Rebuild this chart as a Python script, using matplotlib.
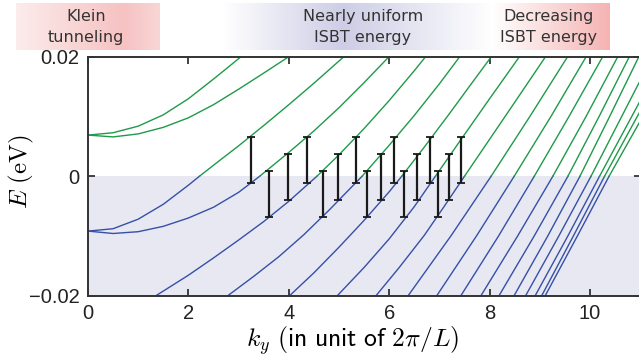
import numpy as np
import matplotlib
matplotlib.use("Agg")
import matplotlib.pyplot as plt
from matplotlib.colors import LinearSegmentedColormap

plt.rcParams["mathtext.fontset"] = "cm"

W, H = 639, 361

# low-k bands, read point by point (k in 2pi/L, E in eV)
band_a_k = [0.0, 0.5, 1.0, 1.5, 2.0, 2.5, 2.75, 3.04]
band_a_e = [0.0069, 0.0073, 0.0084, 0.0103, 0.0130, 0.0163, 0.0180, 0.0200]
band_b_k = [0.0, 0.5, 1.0, 1.5, 2.0, 2.5, 3.0, 3.5, 3.99]
band_b_e = [0.0069, 0.0066, 0.0071, 0.0082, 0.0098, 0.0120, 0.0146, 0.0173, 0.0200]
band_c_k = [0.0, 0.5, 1.0, 1.5, 2.0, 2.22, 2.6, 3.0, 3.5, 4.0, 4.5, 5.09]
band_c_e = [-0.0092, -0.0088, -0.0072, -0.0047, -0.0015, 0.0, 0.0025, 0.0051,
            0.0085, 0.0120, 0.0156, 0.0200]
band_d_k = [0.0, 0.5, 1.0, 1.5, 2.0, 2.5, 3.0, 3.42, 4.0, 4.5, 5.0, 5.5, 5.99]
band_d_e = [-0.0092, -0.0096, -0.0093, -0.0084, -0.0070, -0.0052, -0.0027, 0.0,
            0.0040, 0.0076, 0.0115, 0.0157, 0.0200]
band_e_k = [1.36, 2.0, 2.5, 3.0, 3.5, 4.0, 4.56, 5.0, 5.5, 6.0, 6.5, 6.72]
band_e_e = [-0.0200, -0.0166, -0.0137, -0.0107, -0.0076, -0.0042, 0.0, 0.0036,
            0.0080, 0.0127, 0.0177, 0.0200]
band_f_k = [2.79, 3.3, 3.8, 4.3, 4.8, 5.46, 6.0, 6.5, 7.0, 7.40]
band_f_e = [-0.0200, -0.0168, -0.0135, -0.0098, -0.0057, 0.0, 0.0052, 0.0102,
            0.0155, 0.0200]
band_g_k = [4.02, 4.5, 5.0, 5.5, 6.0, 6.25, 6.7, 7.2, 7.6, 8.03]
band_g_e = [-0.0200, -0.0162, -0.0119, -0.0074, -0.0026, 0.0, 0.0049, 0.0105,
            0.0151, 0.0200]
band_h_k = [4.97, 5.5, 6.0, 6.5, 6.92, 7.4, 8.0, 8.59]
band_h_e = [-0.0200, -0.0153, -0.0105, -0.0051, 0.0, 0.0058, 0.0130, 0.0200]
band_i_k = [5.74, 6.2, 6.7, 7.1, 7.5, 8.0, 8.5, 9.11]
band_i_e = [-0.0200, -0.0153, -0.0099, -0.0050, 0.0, 0.0062, 0.0124, 0.0200]

# steeper bands: k where each one crosses these energies
levels = [-0.02, -0.01, 0.0, 0.01, 0.02]
cross_m20 = [6.38, 6.95, 7.43, 7.83, 8.19, 8.49, 8.72, 8.91, 9.04, 9.11]
cross_m10 = [7.23, 7.74, 8.18, 8.56, 8.89, 9.16, 9.38, 9.56, 9.67, 9.75]
cross_0 = [8.03, 8.49, 8.89, 9.26, 9.56, 9.80, 10.02, 10.19, 10.29, 10.38]
cross_p10 = [8.80, 9.22, 9.58, 9.92, 10.18, 10.39, 10.63, 10.83, 10.94, 11.05]
cross_p20 = [9.55, 9.92, 10.25, 10.55, 10.78, 10.97, 11.24, 11.47, 11.60, 11.70]

# transition bars
bar_k = [3.24, 3.61, 3.98, 4.37, 4.69, 4.99, 5.33, 5.56, 5.83, 6.10, 6.30, 6.55, 6.81, 6.98, 7.20, 7.44]
bar_lo = [-0.0011, -0.0068, -0.0040, -0.0011, -0.0068, -0.0040, -0.0011, -0.0068,
          -0.0040, -0.0011, -0.0068, -0.0040, -0.0011, -0.0068, -0.0040, -0.0011]
bar_hi = [0.0065, 0.0009, 0.0037, 0.0065, 0.0009, 0.0037, 0.0065, 0.0009,
          0.0037, 0.0065, 0.0009, 0.0037, 0.0065, 0.0009, 0.0037, 0.0065]

# region banners: label, pixel span, gradient stops
banner_text = ["Klein\ntunneling", "Nearly uniform\nISBT energy", "Decreasing\nISBT energy"]
banner_span = [(16, 160), (222, 492), (492, 610)]
banner_stops = [
    [(0.0, "#fcecec"), (0.75, "#f6c2c2"), (1.0, "#f9d6d6")],
    [(0.0, "#ffffff"), (0.45, "#cdcde6"), (1.0, "#ffffff")],
    [(0.0, "#ffffff"), (1.0, "#f5b3b3")],
]
banner_center = [86, 363, 549]

GREEN = "#1f9a4a"
BLUE = "#3550a6"

fig = plt.figure(figsize=(W / 100, H / 100), dpi=100)
x0, x1, y0, y1 = 88, 640.5, 57, 295.5
ax = fig.add_axes([x0 / W, 1 - y1 / H, (x1 - x0) / W, (y1 - y0) / H])
ax.set_xlim(0, (x1 - x0) / 50.2)
ax.set_ylim(-0.02, 0.02)
ax.axhspan(-0.02, 0, color="#e8e8f3", zorder=0, lw=0)


def draw_band(k, e):
    k = np.asarray(k); e = np.asarray(e)
    neg = e <= 0
    pos = e >= 0
    if neg.sum() > 1:
        ax.plot(k[neg], e[neg], color=BLUE, lw=1.0, zorder=2)
    if pos.sum() > 1:
        ax.plot(k[pos], e[pos], color=GREEN, lw=1.0, zorder=2)


for k, e in [(band_a_k, band_a_e), (band_b_k, band_b_e), (band_c_k, band_c_e),
             (band_d_k, band_d_e), (band_e_k, band_e_e), (band_f_k, band_f_e),
             (band_g_k, band_g_e), (band_h_k, band_h_e), (band_i_k, band_i_e)]:
    draw_band(k, e)

for i in range(len(cross_0)):
    ks = [cross_m20[i], cross_m10[i], cross_0[i], cross_p10[i], cross_p20[i]]
    draw_band(ks, levels)

mid = (np.array(bar_hi) + np.array(bar_lo)) / 2
half = (np.array(bar_hi) - np.array(bar_lo)) / 2
ax.errorbar(bar_k, mid, yerr=half, fmt="none", ecolor="#1a1a1a", elinewidth=1.6,
            capsize=3.2, capthick=1.3, zorder=3)

ax.set_xticks([0, 2, 4, 6, 8, 10])
ax.set_yticks([-0.02, 0, 0.02])
ax.set_yticklabels(["\u22120.02", "0", "0.02"])
ax.tick_params(direction="in", length=5, width=1.2, top=True, right=True,
               labelsize=14.5, pad=6, colors="#222222", labelcolor="#222222")
for lab in ax.get_xticklabels() + ax.get_yticklabels():
    lab.set_fontfamily("Liberation Sans")
for s in ax.spines.values():
    s.set_linewidth(1.4)
    s.set_color("#333333")

ax.set_xlabel(r"$k_y\ (\mathsf{in\ unit\ of}\ 2\pi/L)$", fontsize=18.5)
ax.xaxis.set_label_coords(0.478, -0.122)
ax.set_ylabel(r"$E\ (\mathrm{eV})$", fontsize=18)
ax.yaxis.set_label_coords(-0.094, 0.52)

# banners along the top
for text, (bx0, bx1), stops, cx in zip(banner_text, banner_span, banner_stops, banner_center):
    bax = fig.add_axes([bx0 / W, 1 - 50 / H, (bx1 - bx0) / W, 47 / H])
    cmap = LinearSegmentedColormap.from_list("b", stops)
    bax.imshow(np.linspace(0, 1, 256)[None, :], aspect="auto", cmap=cmap,
               extent=[0, 1, 0, 1])
    bax.axis("off")
    fig.text(cx / W, 1 - 27 / H, text, ha="center", va="center", fontsize=11.5,
             color="#333333", linespacing=1.45, family="DejaVu Sans")

fig.savefig("out.png", dpi=100)
